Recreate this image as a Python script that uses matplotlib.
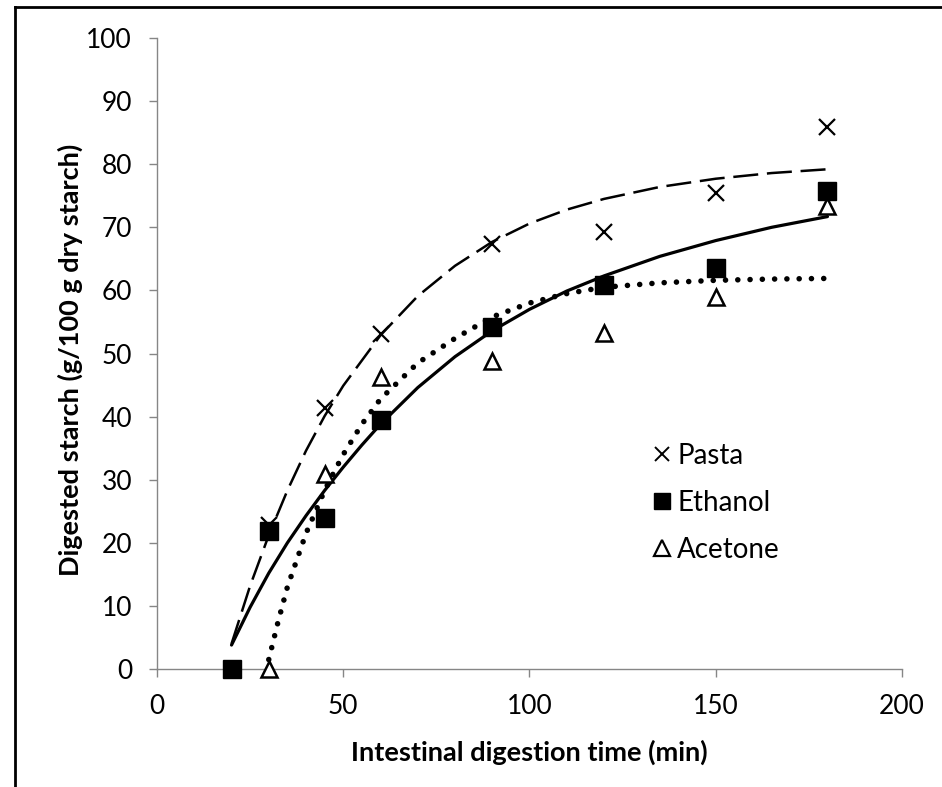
import matplotlib
matplotlib.use('Agg')
import matplotlib.pyplot as plt
from matplotlib.lines import Line2D

# measured points
time = [20, 30, 45, 60, 90, 120, 150, 180]
pasta = [0, 22.8, 41.4, 53.1, 67.4, 69.3, 75.4, 85.9]
ethanol = [0, 21.9, 23.9, 39.5, 54.2, 60.9, 63.5, 75.8]
acetone_time = [30, 45, 60, 90, 120, 150, 180]
acetone = [0, 30.9, 46.3, 48.8, 53.2, 59.0, 73.4]

# fitted curves
pasta_fit_t = [20, 25, 30, 35, 40, 45, 50, 60, 70, 80, 90, 100, 110, 120, 135, 150, 165, 180]
pasta_fit = [4.0, 13.2, 21.2, 28.3, 34.6, 40.1, 44.9, 52.9, 59.1, 63.9, 67.7, 70.6, 72.8, 74.5, 76.4, 77.7, 78.6, 79.2]
ethanol_fit_t = [20, 25, 30, 35, 40, 45, 50, 55, 60, 70, 80, 90, 100, 110, 120, 135, 150, 165, 180]
ethanol_fit = [3.8, 9.8, 15.2, 20.0, 24.3, 28.3, 32.0, 35.5, 38.8, 44.6, 49.5, 53.6, 57.0, 59.9, 62.3, 65.4, 67.9, 70.0, 71.7]
acetone_fit_t = [30, 32.5, 35, 40, 45, 47.5, 50, 55, 60, 70, 80, 90, 100, 110, 120, 135, 150, 165, 180]
acetone_fit = [1.5, 7.5, 13.0, 21.5, 28.3, 31.2, 34.0, 38.8, 42.8, 48.5, 52.4, 55.8, 58.0, 59.5, 60.5, 61.2, 61.6, 61.8, 61.9]

plt.rcParams['font.family'] = ['Lato', 'DejaVu Sans']

fig = plt.figure(figsize=(9.42, 7.87), dpi=100)
ax = fig.add_axes([0.1667, 0.1499, 0.7908, 0.8018])

# trend lines
ax.plot(pasta_fit_t, pasta_fit, color='black', lw=1.8, linestyle=(0, (10, 3.5)))
ax.plot(ethanol_fit_t, ethanol_fit, color='black', lw=2.3, solid_capstyle='round')
ax.plot(acetone_fit_t, acetone_fit, color='black', lw=4.0, linestyle=(0, (0.01, 2.2)),
        dash_capstyle='round')

# markers
ax.plot(time, pasta, linestyle='none', marker='x', markersize=12, mew=1.6, color='black',
        zorder=5, clip_on=False)
ax.plot(time, ethanol, linestyle='none', marker='s', markersize=13, color='black',
        zorder=4, clip_on=False)
ax.plot(acetone_time, acetone, linestyle='none', marker='^', markersize=12, mew=1.8,
        markerfacecolor='white', markeredgecolor='black', zorder=6, clip_on=False)

ax.set_xlim(0, 200)
ax.set_ylim(0, 100)
ax.set_xticks([0, 50, 100, 150, 200])
ax.set_yticks(range(0, 101, 10))

for side in ['top', 'right']:
    ax.spines[side].set_visible(False)
for side in ['left', 'bottom']:
    ax.spines[side].set_color('#868686')
    ax.spines[side].set_linewidth(1.0)
ax.tick_params(direction='out', length=6, width=1.0, color='#868686',
               labelsize=19, pad=12)

ax.set_xlabel('Intestinal digestion time (min)', fontsize=19.5, fontweight='bold')
ax.set_ylabel('Digested starch (g/100 g dry starch)', fontsize=19.5, fontweight='bold')
ax.xaxis.set_label_coords(0.4993, -0.1125)
ax.yaxis.set_label_coords(-0.0993, 0.49)

handles = [
    Line2D([], [], linestyle='none', marker='x', markersize=10, mew=1.4, color='black'),
    Line2D([], [], linestyle='none', marker='s', markersize=11, color='black'),
    Line2D([], [], linestyle='none', marker='^', markersize=11.5, mew=1.6,
           markerfacecolor='white', markeredgecolor='black'),
]
ax.legend(handles, ['Pasta', 'Ethanol', 'Acetone'], frameon=False, fontsize=20,
          loc='upper left', bbox_to_anchor=(0.646, 0.38), borderpad=0,
          handlelength=0.7, handletextpad=0.2, labelspacing=0.75)

# outer frame (only left and top edges are visible)
fig.add_artist(Line2D([0.0154, 0.0154], [0, 0.9905], transform=fig.transFigure,
                      color='black', lw=2.0))
fig.add_artist(Line2D([0.0154, 1.0], [0.9905, 0.9905], transform=fig.transFigure,
                      color='black', lw=2.0))

fig.savefig('out.png', dpi=100)
